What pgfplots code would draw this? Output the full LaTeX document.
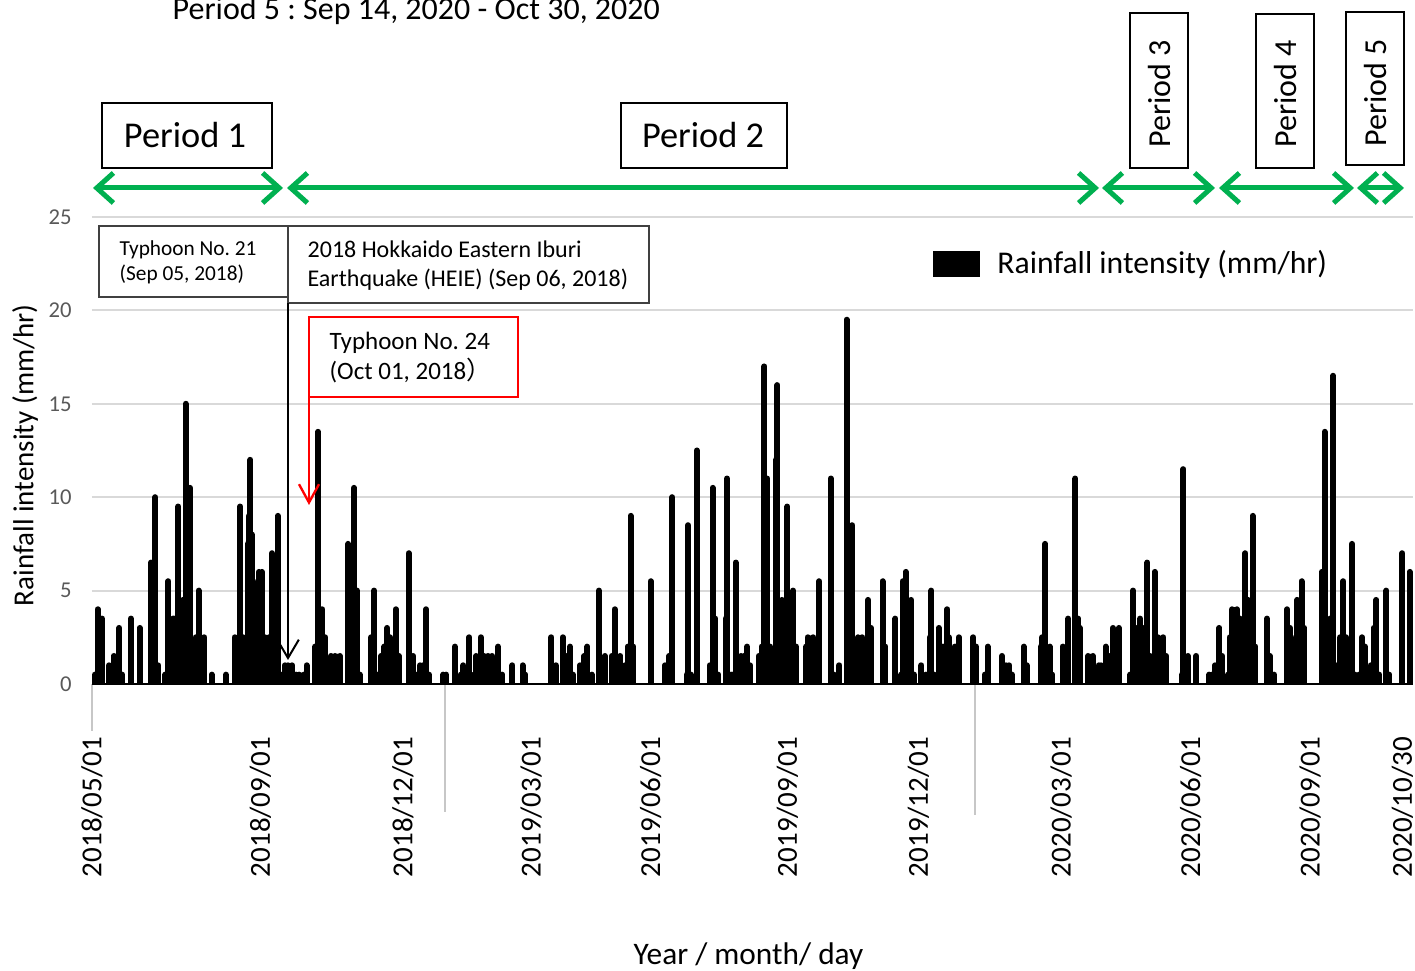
\documentclass[border=0pt]{standalone}
\usepackage{pgfplots}
\pgfplotsset{compat=1.18}
\usepackage{pgfplotstable}
\usepackage{fontspec}
\setmainfont{Carlito}
\newfontfamily\cjk{Noto Sans CJK SC}
\usetikzlibrary{arrows.meta}
\definecolor{pgreen}{HTML}{00B050}
\definecolor{gridgray}{HTML}{D9D9D9}
\definecolor{ticktext}{HTML}{595959}
\definecolor{boxgray}{HTML}{404040}
\frenchspacing

% day index since 2018/05/01 , rainfall intensity (mm/hr)
\pgfplotstableread{
day val
2 0.5
4 4.0
7 3.5
12 1.0
15 1.5
17 0.5
19 3.0
21 0.5
27 3.5
33 3.0
41 6.5
42 1.0
44 10.0
46 1.0
51 0.5
53 5.5
56 3.5
57 3.5
60 9.5
61 2.5
63 4.5
65 15.0
67 10.5
68 10.5
70 1.5
72 2.5
74 5.0
76 1.0
78 2.5
83 0.5
93 0.5
99 2.5
102 2.0
103 9.5
105 2.5
108 7.5
109 9.0
110 12.0
111 8.0
112 2.5
115 5.5
116 6.0
118 6.0
120 2.5
123 2.5
125 7.0
127 0.5
129 9.0
131 0.5
134 1.0
136 1.0
139 1.0
142 0.5
144 0.5
147 0.5
149 1.0
155 2.0
157 13.5
158 2.0
160 4.0
162 2.5
164 0.5
166 1.5
169 1.5
172 1.5
178 7.5
182 10.5
184 5.0
186 0.5
194 2.5
196 5.0
198 0.5
201 1.5
203 2.0
205 3.0
207 2.5
208 1.5
211 4.0
213 1.5
220 7.0
223 1.5
226 0.5
228 1.0
230 1.0
232 4.0
234 0.5
244 0.5
246 0.5
252 2.0
256 0.5
258 1.0
262 2.5
265 0.5
267 1.5
270 2.5
272 1.5
275 1.5
278 1.5
282 2.0
285 0.5
292 1.0
299 1.0
301 0.5
319 2.5
322 1.0
327 2.5
330 1.5
332 2.0
334 0.5
339 1.0
342 1.5
344 2.0
347 0.5
352 5.0
354 1.0
356 1.5
361 1.5
363 4.0
365 1.0
367 1.5
370 1.0
372 2.0
374 9.0
376 2.0
388 5.5
398 1.0
401 1.5
403 10.0
413 0.5
414 8.5
416 0.5
420 12.5
429 1.0
431 10.5
433 3.5
435 0.5
440 3.5
441 11.0
444 0.5
445 0.5
447 6.5
451 1.5
453 1.5
455 2.0
457 1.0
463 1.5
465 2.0
467 17.0
469 11.0
471 2.0
474 0.5
475 12.0
476 16.0
479 4.5
481 3.5
483 9.5
485 1.0
487 5.0
489 2.0
496 2.0
497 2.5
501 2.5
505 5.5
513 11.0
515 0.5
519 1.0
524 19.5
528 8.5
531 1.0
532 2.5
535 2.5
539 4.5
541 3.0
549 5.5
551 2.0
558 3.5
562 0.5
563 5.5
565 6.0
567 0.5
569 4.5
571 0.5
576 1.0
579 0.5
582 2.5
583 5.0
585 0.5
588 3.0
591 2.0
594 4.0
595 2.5
599 2.0
602 2.5
612 2.5
614 2.0
620 0.5
622 2.0
632 1.5
635 1.0
637 1.0
639 0.5
647 2.0
649 1.0
659 2.0
660 2.5
662 7.5
665 2.0
667 0.5
674 2.0
676 1.0
678 3.5
683 11.0
685 3.5
686 3.0
692 1.5
695 1.5
697 0.5
699 1.0
701 1.0
704 2.0
706 1.5
709 3.0
713 3.0
721 0.5
723 5.0
725 3.0
728 3.5
730 3.0
733 6.5
735 1.5
738 6.0
740 2.5
744 2.5
746 1.5
757 0.5
758 11.5
761 1.5
767 1.5
776 0.5
778 0.5
780 1.0
783 3.0
785 1.5
789 0.5
790 2.5
792 4.0
795 4.0
797 3.5
801 7.0
803 4.5
806 9.0
808 2.0
816 3.5
818 1.5
821 0.5
830 4.0
832 3.0
833 2.5
835 1.5
837 4.5
839 4.5
840 5.5
842 3.0
854 6.0
856 13.5
858 2.5
860 3.5
862 16.5
864 1.0
867 2.5
869 5.5
871 2.5
873 1.0
875 7.5
877 0.5
880 0.5
882 2.5
884 2.0
888 1.0
890 3.0
892 4.5
894 0.5
899 5.0
901 0.5
910 7.0
915 6.0
}\rain

\begin{document}
\begin{tikzpicture}[x=0.3pt,y=0.3pt]
\path[use as bounding box] (0,0) rectangle (1415,971);

% year separators below the axis
\draw[gridgray!80!gray, line width=0.5pt] (92,287) -- (92,240);
\draw[gridgray!80!gray, line width=0.5pt] (445,287) -- (445,159);
\draw[gridgray!80!gray, line width=0.5pt] (975,287) -- (975,156);

\begin{axis}[
  at={(27.6pt,86.1pt)}, anchor=south west,
  scale only axis, width=396.3pt, height=140.1pt,
  xmin=0, xmax=917.4, ymin=0, ymax=25,
  axis x line*=bottom, axis y line*=left,
  separate axis lines,
  x axis line style={draw=none},
  y axis line style={draw=none},
  ytick={0,5,10,15,20,25},
  ymajorgrids, grid style={gridgray, line width=0.6pt},
  major tick length=0pt, tick style={draw=none},
  xtick={0,117,216,305,388,483,574,673,763,846,910},
  xticklabels={2018/05/01,2018/09/01,2018/12/01,2019/03/01,2019/06/01,2019/09/01,2019/12/01,2020/03/01,2020/06/01,2020/09/01,2020/10/30},
  xticklabel style={yshift=-12.4pt, rotate=90, anchor=east, font=\fontsize{8.7}{10}\selectfont},
  yticklabel style={xshift=-2.6pt, font=\fontsize{6.8}{8}\selectfont, text=ticktext},
  /pgf/number format/assume math mode=true,
  ylabel={Rainfall intensity (mm/hr)},
  ylabel style={at={(axis description cs:-0.0507,0.49)}, anchor=center, font=\fontsize{8.7}{10}\selectfont},
  xlabel={Year / month/ day},
  xlabel style={at={(axis description cs:0.497,-0.6017)}, anchor=base, font=\fontsize{9.4}{11}\selectfont},
  legend style={at={(axis description cs:0.636,0.899)}, anchor=west, draw=none, fill=none,
    inner sep=0pt, font=\fontsize{9.5}{11}\selectfont},
  legend image code/.code={\path[draw=none,fill=none] (0pt,0pt) -- (16.5pt,0pt); \fill[black] (0pt,-3pt) rectangle (12.5pt,3pt);},
]
\addplot[ycomb, black, line width=1.8pt, line cap=round] table[x=day, y=val] {\rain};
\addlegendentry{Rainfall intensity (mm/hr)}
\end{axis}

% x axis line
\draw[black, line width=0.8pt] (92,287) -- (1413,287);

% title (cut at top)
\node[anchor=base west, inner sep=0pt, font=\fontsize{9.6}{11}\selectfont] at (172,951) {Period 5 : Sep 14, 2020 - Oct 30, 2020};

% period boxes
\draw[line width=0.6pt] (102,803) rectangle (272,868);
\node[font=\fontsize{10.9}{12}\selectfont] at (185,835.5) {Period 1};
\draw[line width=0.6pt] (621,803) rectangle (787,868);
\node[font=\fontsize{10.9}{12}\selectfont] at (703,835.5) {Period 2};
\draw[line width=0.6pt] (1130,803) rectangle (1188,958);
\node[rotate=90, font=\fontsize{9.6}{11}\selectfont] at (1159,877) {Period 3};
\draw[line width=0.6pt] (1256,803) rectangle (1314,957);
\node[rotate=90, font=\fontsize{9.6}{11}\selectfont] at (1285,877) {Period 4};
\draw[line width=0.6pt] (1346,806) rectangle (1404,959);
\node[rotate=90, font=\fontsize{9.6}{11}\selectfont] at (1375,878) {Period 5};

% green period arrows
\tikzset{parr/.style={pgreen, line width=1.5pt, line cap=round,
  {Straight Barb[length=5pt,width=9pt]}-{Straight Barb[length=5pt,width=9pt]}}}
\draw[parr] (93,783) -- (283,783);
\draw[parr] (287,783) -- (1099,783);
\draw[parr] (1102,783) -- (1215,783);
\draw[parr] (1219,783) -- (1354,783);
\draw[parr] (1357,783) -- (1404,783);

% event boxes
\draw[boxgray, line width=0.45pt] (99,674) rectangle (288,745);
\node[anchor=base west, inner sep=0pt, font=\fontsize{6.4}{8}\selectfont] at (119,715) {Typhoon No.\ 21};
\node[anchor=base west, inner sep=0pt, font=\fontsize{6.4}{8}\selectfont] at (119,690) {(Sep 05, 2018)};
\draw[boxgray, line width=0.45pt] (288,668) rectangle (649,745);
\node[anchor=base west, inner sep=0pt, font=\fontsize{7.2}{9}\selectfont] at (307,713) {2018 Hokkaido Eastern Iburi};
\node[anchor=base west, inner sep=0pt, font=\fontsize{7.2}{9}\selectfont] at (307,684) {Earthquake (HEIE) (Sep 06, 2018)};
\draw[black, line width=0.6pt, -{Straight Barb[length=5.5pt,width=6.5pt]}] (288,668) -- (288,311);

\draw[red, line width=0.6pt] (309,574) rectangle (518,654);
\node[anchor=base west, inner sep=0pt, font=\fontsize{7.5}{9}\selectfont] at (329,621) {Typhoon No.\ 24};
\node[anchor=base west, inner sep=0pt, font=\fontsize{7.5}{9}\selectfont] at (329,591) {(Oct 01, 2018{\cjk ）}};
\draw[red, line width=0.7pt, -{Straight Barb[length=5.5pt,width=6pt]}] (309,574) -- (309,466);
\end{tikzpicture}
\end{document}
